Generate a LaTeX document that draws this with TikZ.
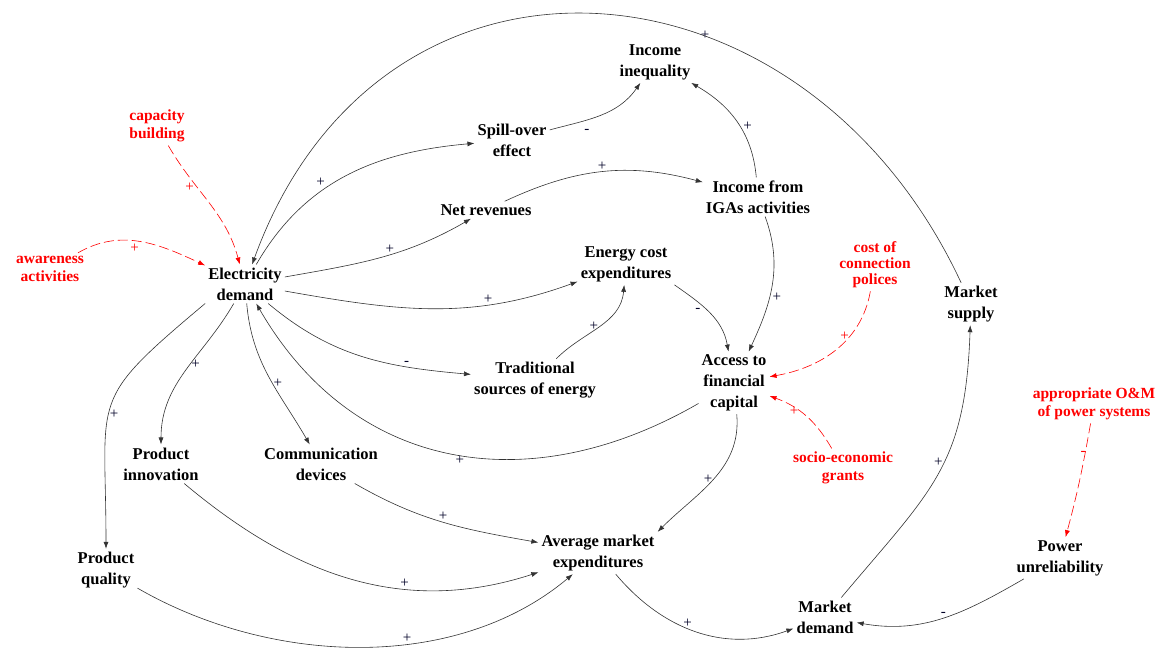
\documentclass[tikz,border=0pt]{standalone}
\usepackage{fontspec}
\setmainfont{Liberation Serif}
\usetikzlibrary{arrows.meta}

\begin{document}
\begin{tikzpicture}[x=1pt,y=1pt,>={Latex[length=7pt,width=5pt]},
 var/.style={font=\fontsize{16.5}{21}\selectfont\bfseries,align=center,inner sep=3pt},
 ext/.style={font=\fontsize{15.5}{18.5}\selectfont\bfseries,align=center,text=red,inner sep=3pt},
 lnk/.style={->,draw=black!80,line width=.6pt},
 xlnk/.style={->,draw=red,line width=.6pt,dash pattern=on 10pt off 4pt},
 sgn/.style={font=\fontsize{15}{15}\selectfont,text=black!85!blue,inner sep=1pt},
 xsgn/.style={sgn,text=red}]
\useasboundingbox (0,0) rectangle (1169,651);
\node[var] (ed) at (245,367) {Electricity\\demand};
\node[ext] (cap) at (157,525) {capacity\\building};
\node[ext] (awa) at (50,382) {awareness\\activities};
\node[var] (spill) at (512,511) {Spill-over\\effect};
\node[var] (ineq) at (655,589) {Income\\inequality};
\node[var] (net) at (486,441) {Net revenues};
\node[var] (iga) at (758,454) {Income from\\IGAs activities};
\node[var] (ecost) at (626,387) {Energy cost\\expenditures};
\node[var] (trad) at (535,271) {Traditional\\sources of energy};
\node[var] (acc) at (734,268) {Access to\\financial\\capital};
\node[ext,font=\fontsize{15.5}{16}\selectfont\bfseries] (conn) at (875,386) {cost of\\connection\\polices};
\node[ext] (grant) at (843,183) {socio-economic\\grants};
\node[var] (sup) at (971,347) {Market\\supply};
\node[ext] (om) at (1094,247) {appropriate O\&M\\of power systems};
\node[var] (pinn) at (161,187) {Product\\innovation};
\node[var] (comm) at (321,187) {Communication\\devices};
\node[var] (pq) at (106,81) {Product\\quality};
\node[var] (ame) at (598,98) {Average market\\expenditures};
\node[var] (md) at (825,34) {Market\\demand};
\node[var] (pu) at (1060,93) {Power\\unreliability};
\draw[xlnk] (cap) to[out=-60,in=105] node[xsgn,pos=.35,left=2pt]{+} (ed);
\draw[xlnk] (awa) to[out=30,in=155] node[xsgn,pos=.45,below=2pt]{+} (ed);
\draw[lnk] (sup) to[out=115,in=70,looseness=1.35] node[sgn,pos=.37,above=-4pt]{+} (ed);
\draw[lnk] (ed) to[out=60,in=185] node[sgn,pos=.4,above left]{+} (spill);
\draw[lnk] (spill) to[out=15,in=235] node[sgn,pos=.35,below=8pt]{-} (ineq);
\draw[lnk] (ed) to[out=10,in=210] node[sgn,pos=.55,above]{+} (net);
\draw[lnk] (net) to[out=25,in=165] node[sgn,pos=.5,above]{+} (iga);
\draw[lnk] (iga) to[out=95,in=-30] node[sgn,pos=.45,right=2pt]{+} (ineq);
\draw[lnk] (iga) to[out=-70,in=65] node[sgn,pos=.6,right=2pt]{+} (acc);
\draw[lnk] (ed) to[out=-10,in=200] node[sgn,pos=.7,above]{+} (ecost);
\draw[lnk] (trad) to[out=45,in=265] node[sgn,pos=.5,left]{+} (ecost);
\draw[lnk] (ecost.south east) to[out=-35,in=100] node[sgn,pos=.45,left=5pt]{-} (acc);
\draw[lnk] (ed) to[out=-40,in=175] node[sgn,pos=.72,above]{-} (trad);
\draw[lnk] (acc) to[out=210,in=300,looseness=1.1] node[sgn,pos=.48,below]{+} (ed);
\draw[xlnk] (conn) to[out=-100,in=10] node[xsgn,pos=.35,left]{+} (acc);
\draw[xlnk] (grant) to[out=120,in=-20] node[xsgn,pos=.6,left]{+} (acc);
\draw[lnk] (ed) to[out=-120,in=90] node[sgn,pos=.45,right]{+} (pinn);
\draw[lnk] (ed) to[out=-85,in=120] node[sgn,pos=.55,right]{+} (comm);
\draw[lnk] (ed.south west) to[out=-140,in=90,looseness=1.5] node[sgn,pos=.55,right]{+} (pq);
\draw[lnk] (comm) to[out=-30,in=170] node[sgn,pos=.5,above]{+} (ame);
\draw[lnk] (pinn) to[out=-40,in=198] node[sgn,pos=.65,above]{+} (ame);
\draw[lnk] (pq) to[out=-30,in=220,looseness=.9] node[sgn,pos=.6,above]{+} (ame);
\draw[lnk] (acc) to[out=-85,in=45] node[sgn,pos=.5,left]{+} (ame.north east);
\draw[lnk] (ame) to[out=-50,in=200] node[sgn,pos=.45,above]{+} (md);
\draw[lnk] (md) to[out=50,in=268,looseness=1.2] node[sgn,pos=.55,left]{+} (sup);
\draw[xlnk] (om) to[out=-100,in=75] node[xsgn,pos=.25,left=-2pt]{-} (pu);
\draw[lnk] (pu) to[out=210,in=-10] node[sgn,pos=.5,above]{-} (md);
\end{tikzpicture}
\end{document}
